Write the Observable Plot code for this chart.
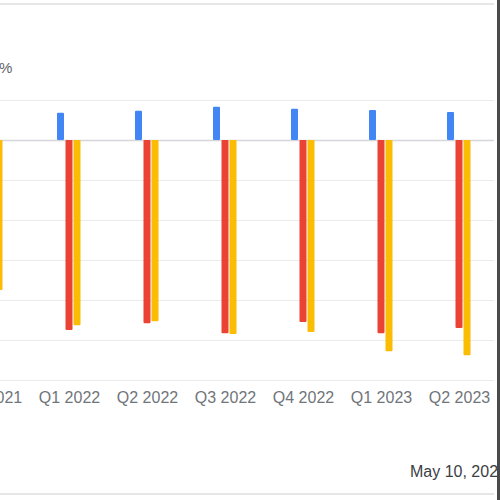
<!DOCTYPE html>
<html>
<head>
<meta charset="utf-8">
<script src="https://cdn.jsdelivr.net/npm/d3@7"></script>
<script src="https://cdn.jsdelivr.net/npm/@observablehq/plot@0.6"></script>
<style>
  html, body { margin: 0; padding: 0; background: #fff; overflow: hidden; }
  #wrap { position: relative; width: 500px; height: 500px; overflow: hidden; background: #fff; font-family: "Liberation Sans", Arial, sans-serif; box-sizing: border-box; border-right: 3px solid #4a4a4a; }
  #chart { position: absolute; left: 0; top: 0; width: 494px; height: 500px; overflow: hidden; }
  #topline { position: absolute; left: 0; top: 3px; width: 494px; height: 2px; background: #e6e6e6; }
  #bottomline { position: absolute; left: 0; top: 493px; width: 494px; height: 2px; background: #e6e6e6; }
  #ylabel { position: absolute; left: -1px; top: 59px; font-size: 15px; color: #5f6368; }
  #date { position: absolute; left: 410px; top: 463px; font-size: 16px; color: #3c4043; white-space: nowrap; }
</style>
</head>
<body>
<div id="wrap">
  <div id="chart"></div>
  <div id="topline"></div>
  <div id="bottomline"></div>
  <div id="ylabel">%</div>
  <div id="date">May 10, 2023</div>
</div>
<script>
// Categories (Q4 2021 is mostly cut off at the left edge)
const quarters = ["Q4 2021", "Q1 2022", "Q2 2022", "Q3 2022", "Q4 2022", "Q1 2023", "Q2 2023"];
// Series values (%)
const blueValues   = [7.0, 6.8, 7.3, 8.3, 7.8, 7.5, 7.0];
const redValues    = [-36.0, -47.5, -45.8, -48.3, -45.5, -48.3, -47.0];
const yellowValues = [-37.5, -46.3, -45.3, -48.5, -48.0, -52.8, -53.8];
// Gridline tick values
const yTicks = [-60, -50, -40, -30, -20, -10, 0, 10];

const blue = quarters.map((q, i) => ({q, v: blueValues[i]}));
const red = quarters.map((q, i) => ({q, v: redValues[i]}));
const yellow = quarters.map((q, i) => ({q, v: yellowValues[i]}));

const inset = 35.5;
const chart = Plot.plot({
  width: 494,
  height: 500,
  marginLeft: 0,
  marginRight: 0,
  marginTop: 4,
  marginBottom: 115,
  style: {fontSize: "16px", fontFamily: "'Liberation Sans', Arial, sans-serif", color: "#70757a", background: "transparent"},
  x: {domain: quarters, range: [-48.5, 497.5], padding: 0, axis: null},
  y: {domain: [-61.25, 34], axis: null},
  marks: [
    Plot.gridY(yTicks, {stroke: "#ebebeb", strokeOpacity: 1, strokeWidth: 1.2}),
    Plot.ruleY([0], {stroke: "#d5d6dc", strokeWidth: 1.5}),
    Plot.barY(blue, {x: "q", y: "v", fill: "#4285f4", dx: -8.5, insetLeft: inset, insetRight: inset, rx: 1}),
    Plot.barY(red, {x: "q", y: "v", fill: "#ea4335", dx: 0, insetLeft: inset, insetRight: inset, rx: 1}),
    Plot.barY(yellow, {x: "q", y: "v", fill: "#fbbc04", dx: 8, insetLeft: inset, insetRight: inset, rx: 1}),
    Plot.axisX({tickSize: 0, tickPadding: 6, label: null, fill: "#70757a"})
  ]
});
document.getElementById("chart").appendChild(chart);
</script>
</body>
</html>
